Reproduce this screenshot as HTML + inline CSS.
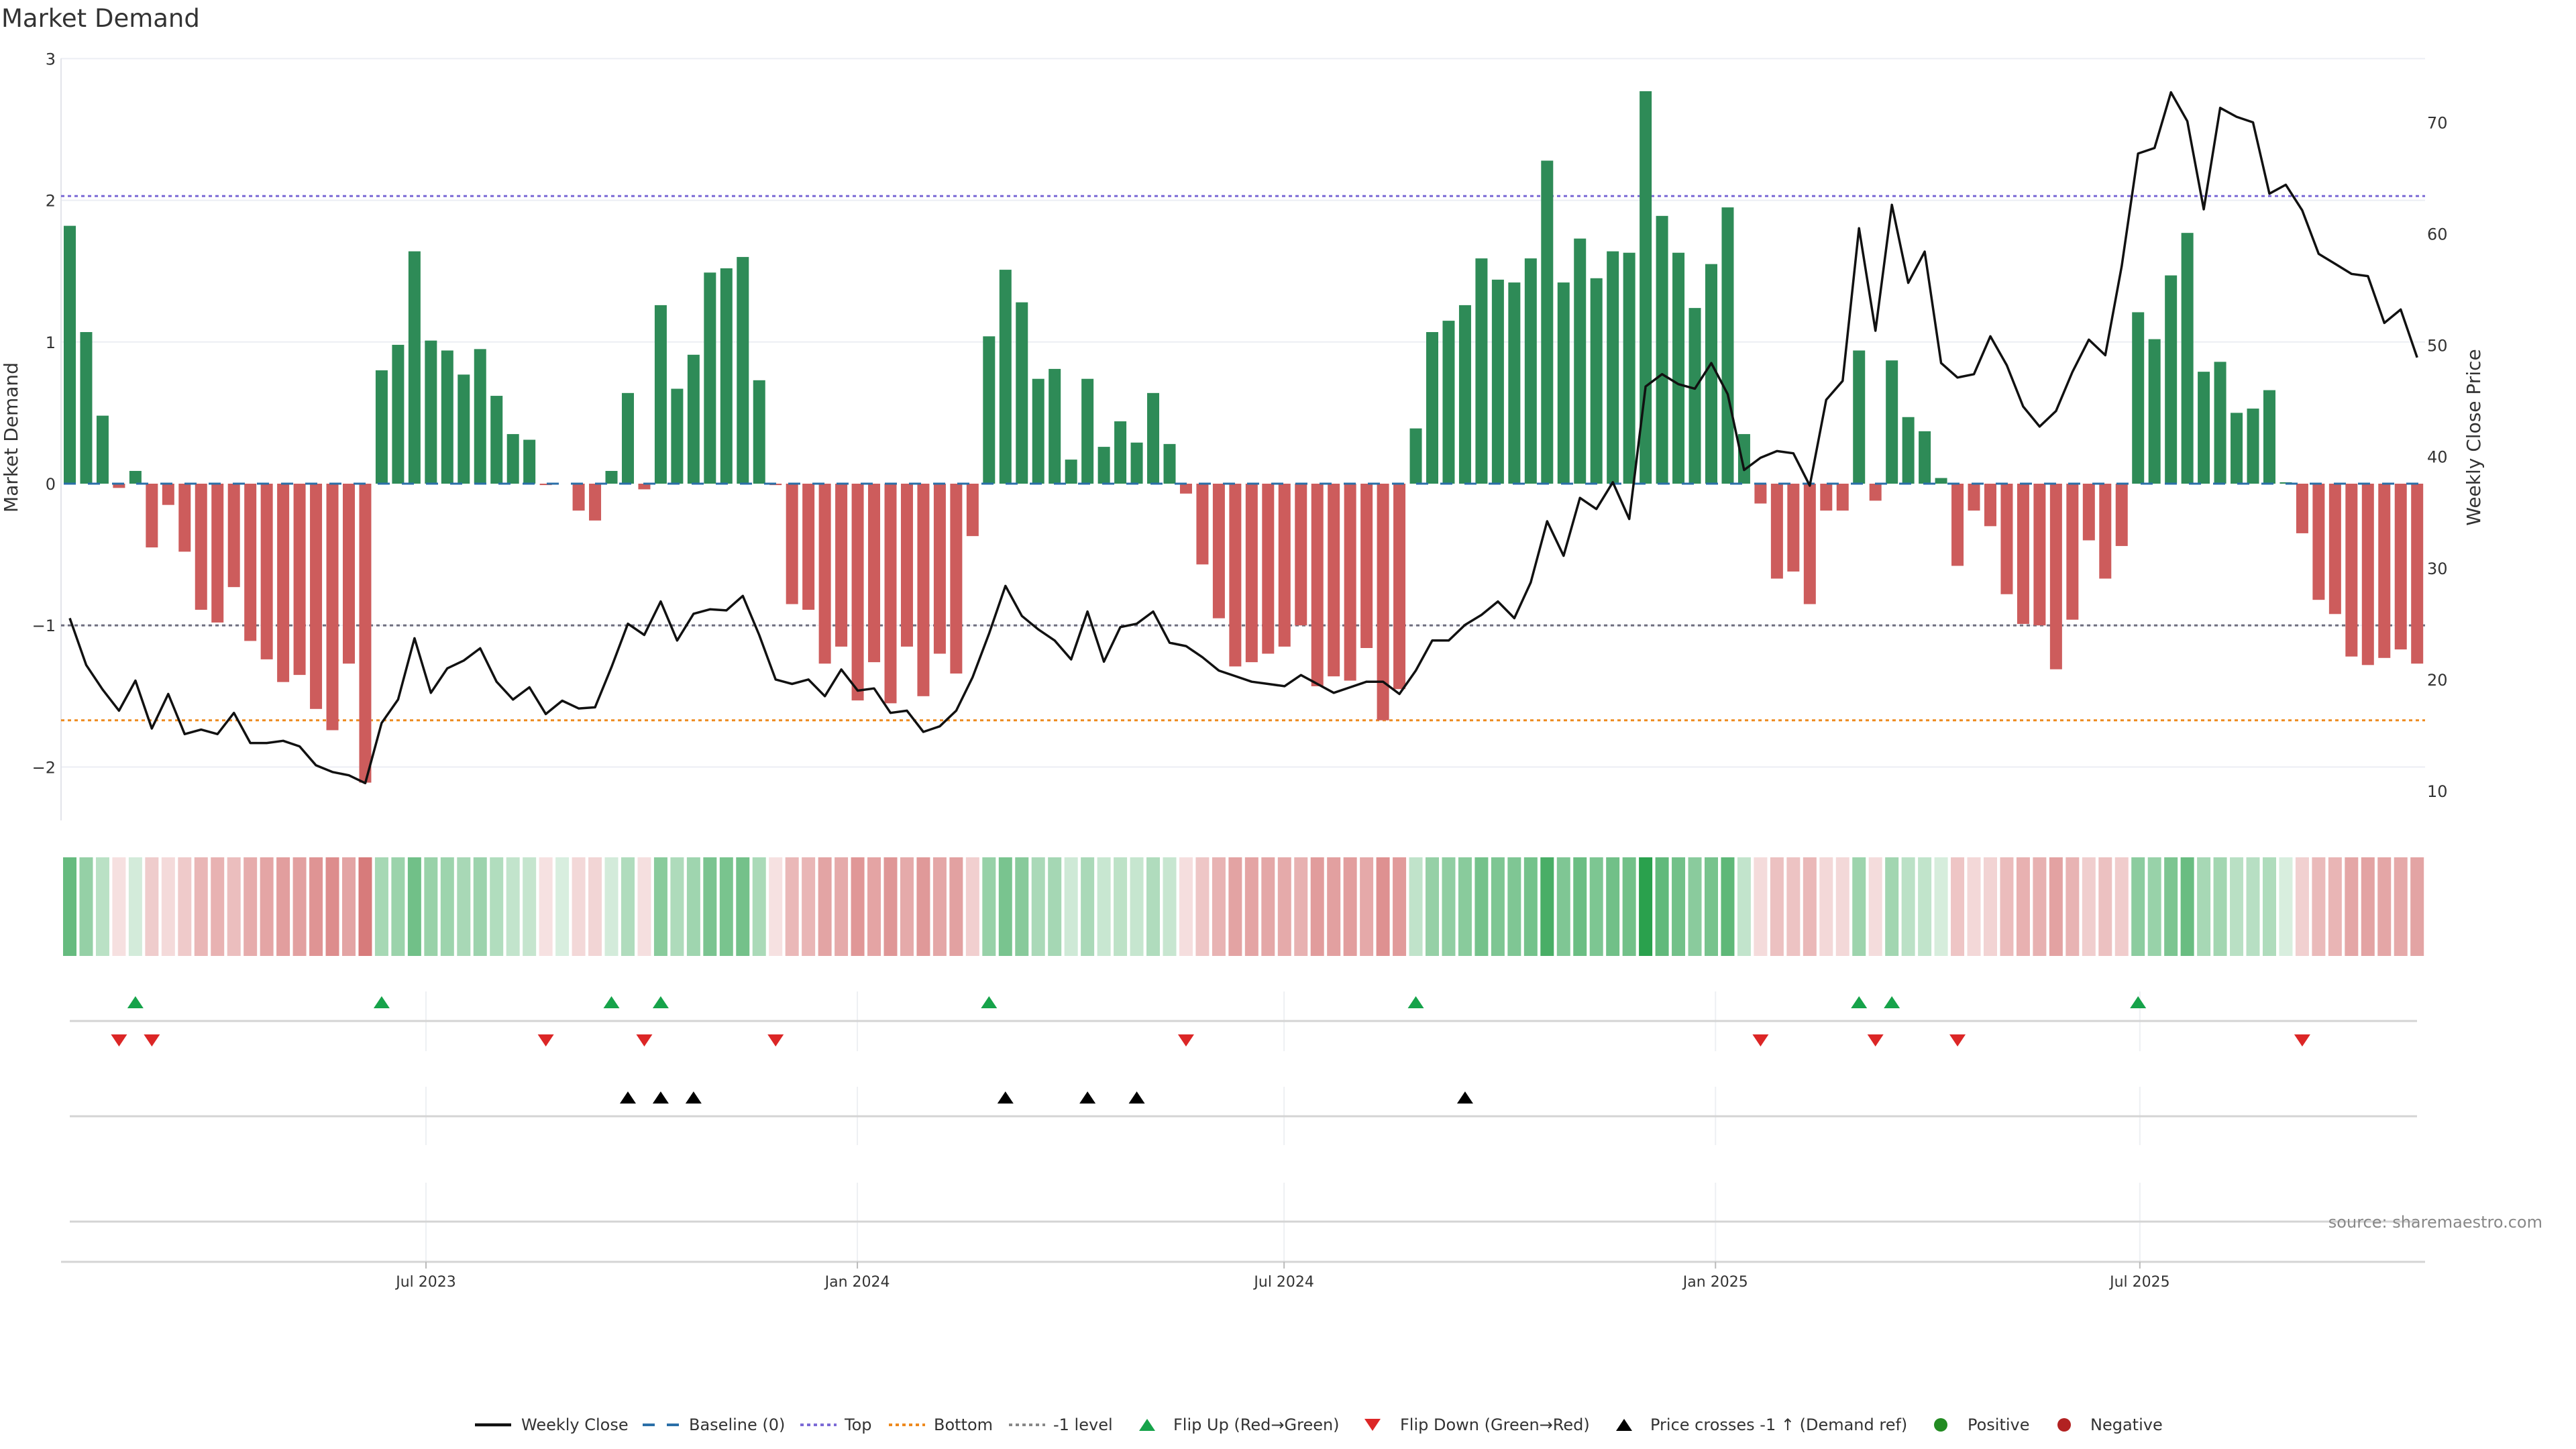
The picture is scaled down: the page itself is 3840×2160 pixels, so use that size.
<!DOCTYPE html>
<html><head><meta charset="utf-8"><style>
html,body{margin:0;padding:0;background:#fff;}
svg{display:block;font-family:"DejaVu Sans","Liberation Sans",sans-serif;}
</style></head><body>
<svg id="chart" width="3840" height="2160" viewBox="0 0 3840 2160" xmlns="http://www.w3.org/2000/svg">
<rect width="3840" height="2160" fill="#fff"/>
<text x="2" y="40" font-size="37" fill="#333">Market Demand</text>
<g id="grid"></g><g id="refs"></g><g id="bars"></g><g id="line"></g><g id="heat"></g><g id="lower"></g><g id="axes"></g>
<g id="legend"></g>
<text x="3790" y="1830" font-size="24" fill="#888" text-anchor="end">source: sharemaestro.com</text>
</svg>
<script>
const demand=[1.82,1.07,0.48,-0.03,0.09,-0.45,-0.15,-0.48,-0.89,-0.98,-0.73,-1.11,-1.24,-1.40,-1.35,-1.59,-1.74,-1.27,-2.11,0.80,0.98,1.64,1.01,0.94,0.77,0.95,0.62,0.35,0.31,-0.01,0.0,-0.19,-0.26,0.09,0.64,-0.04,1.26,0.67,0.91,1.49,1.52,1.60,0.73,-0.01,-0.85,-0.89,-1.27,-1.15,-1.53,-1.26,-1.55,-1.15,-1.50,-1.20,-1.34,-0.37,1.04,1.51,1.28,0.74,0.81,0.17,0.74,0.26,0.44,0.29,0.64,0.28,-0.07,-0.57,-0.95,-1.29,-1.26,-1.20,-1.15,-1.00,-1.43,-1.36,-1.39,-1.16,-1.67,-1.45,0.39,1.07,1.15,1.26,1.59,1.44,1.42,1.59,2.28,1.42,1.73,1.45,1.64,1.63,2.77,1.89,1.63,1.24,1.55,1.95,0.35,-0.14,-0.67,-0.62,-0.85,-0.19,-0.19,0.94,-0.12,0.87,0.47,0.37,0.04,-0.58,-0.19,-0.30,-0.78,-0.99,-1.00,-1.31,-0.96,-0.40,-0.67,-0.44,1.21,1.02,1.47,1.77,0.79,0.86,0.50,0.53,0.66,0.01,-0.35,-0.82,-0.92,-1.22,-1.28,-1.23,-1.17,-1.27];
const price=[25.5,21.3,19.1,17.2,19.9,15.6,18.7,15.1,15.5,15.1,17.0,14.3,14.3,14.5,14.0,12.3,11.7,11.4,10.7,16.1,18.2,23.7,18.8,21.0,21.7,22.8,19.8,18.2,19.3,16.9,18.1,17.4,17.5,21.1,25.0,24.0,27.0,23.5,25.9,26.3,26.2,27.5,24.0,20.0,19.6,20.0,18.5,20.9,19.0,19.2,17.0,17.2,15.3,15.8,17.2,20.2,24.1,28.4,25.7,24.5,23.5,21.8,26.1,21.6,24.7,25.0,26.1,23.3,23.0,22.0,20.8,20.3,19.8,19.6,19.4,20.4,19.6,18.8,19.3,19.8,19.8,18.7,20.8,23.5,23.5,24.9,25.8,27.0,25.5,28.7,34.2,31.1,36.3,35.3,37.7,34.4,46.3,47.4,46.5,46.1,48.4,45.6,38.8,39.9,40.5,40.3,37.4,45.1,46.8,60.5,51.3,62.6,55.6,58.4,48.4,47.1,47.4,50.8,48.2,44.5,42.7,44.1,47.6,50.5,49.1,57.1,67.2,67.7,72.7,70.1,62.2,71.3,70.5,70.0,63.6,64.4,62.1,58.2,57.3,56.4,56.2,52.0,53.2,48.9];
const flipUp=[4,19,33,36,56,82,109,111,126];
const flipDown=[3,5,29,35,43,68,103,110,115,136];
const priceCross=[34,36,38,57,62,65,85];
const leftTicks=[3,2,1,0,-1,-2];
const leftTickLabels=["3","2","1","0","\u22121","\u22122"];
const rightTicks=[10,20,30,40,50,60,70];
const dateTicks=["2023-07-01","2024-01-01","2024-07-01","2025-01-01","2025-07-01"];
const dateTickLabels=["Jul 2023","Jan 2024","Jul 2024","Jan 2025","Jul 2025"];
const topLevel=2.03, bottomLevel=-1.67, minusLevel=-1;

const NS="http://www.w3.org/2000/svg";
function mk(tag,attrs,parent,txt){const e=document.createElementNS(NS,tag);for(const k in attrs)e.setAttribute(k,attrs[k]);if(txt!==undefined)e.textContent=txt;parent.appendChild(e);return e;}
const X0=104,DX=24.47;
function xOf(i){return X0+DX*i;}
function yL(v){return 721-211.2*v;}
function yR(p){return 182.4+(70-p)*16.61;}
const jul23=Date.UTC(2023,6,1);
function xDate(s){const d=(Date.parse(s)-jul23)/86400000;return 635+d*3.495;}
const PL=91,PR=3615;
const G=id=>document.getElementById(id);

const grid=G('grid');
leftTicks.forEach((v,k)=>{
  if(v!==0){const l=mk('line',{x1:PL,x2:PR,y1:yL(v),y2:yL(v),stroke:'#eceef4','stroke-width':2},grid);
  
  }
  const t=mk('text',{x:83,y:yL(v)+9,'font-size':24,'text-anchor':'end',fill:'#333'},grid,leftTickLabels[k]);
  
  
});
rightTicks.forEach(p=>{
  const t=mk('text',{x:3618,y:yR(p)+9,'font-size':24,fill:'#333'},grid,String(p));
  
  
});
const ax=mk('line',{x1:PL,x2:PL,y1:87,y2:1223,stroke:'#e2e4ea','stroke-width':2},grid);


let t1=mk('text',{x:0,y:0,'font-size':28,fill:'#333','text-anchor':'middle',transform:'translate(26,652) rotate(-90)'},grid,'Market Demand');


let t2=mk('text',{x:0,y:0,'font-size':28,fill:'#333','text-anchor':'middle',transform:'translate(3697,652) rotate(-90)'},grid,'Weekly Close Price');



const bars=G('bars');
demand.forEach((v,i)=>{
  const y0=yL(0),y1=yL(v);
  const r=mk('rect',{x:xOf(i)-9,y:Math.min(y0,y1),width:18,height:Math.max(Math.abs(y1-y0),0.01),fill:v>=0?'#2e8b57':'#cd5c5c'},bars);
  
  
});

const refs=G('refs');
function ref(v,color,dash,name){const l=mk('line',{x1:PL,x2:PR,y1:yL(v),y2:yL(v),stroke:color,'stroke-width':3,'stroke-dasharray':dash},refs);
  
  }
ref(topLevel,'#7b6ad6','5 5','top-line');
ref(minusLevel,'#6e6e7e','5 5','minus1-line');
ref(bottomLevel,'#ee8a1e','5 5','bottom-line');
const bl=mk('line',{x1:xOf(0)-9,x2:xOf(demand.length-1)+9,y1:yL(0),y2:yL(0),stroke:'#2a6fa8','stroke-width':3,'stroke-dasharray':'18 18'},G('line'));



const pts=price.map((p,i)=>xOf(i).toFixed(1)+','+yR(p).toFixed(1)).join(' ');
const pl=mk('polyline',{points:pts,fill:'none',stroke:'#111','stroke-width':3.5,'stroke-linejoin':'round'},G('line'));



const heat=G('heat');
demand.forEach((v,i)=>{
  const a=Math.min(0.18+0.82*Math.abs(v)/2.8,1);
  const base=v>=0?[40,160,75]:[205,90,90];
  const c=base.map(b=>Math.round(b*a+255*(1-a)));
  const r=mk('rect',{x:xOf(i)-10,y:1278,width:20,height:147,fill:'rgb('+c.join(',')+')'},heat);
  
  
});

const low=G('lower');
dateTicks.forEach(d=>{
  const x=xDate(d);
  [[1478,1567],[1620,1707],[1763,1881]].forEach(s=>{
    const l=mk('line',{x1:x,x2:x,y1:s[0],y2:s[1],stroke:'#eef0f3','stroke-width':2},low);
    
    
  });
});
[1522,1664,1821].forEach(y=>{
  const l=mk('line',{x1:104,x2:3603,y1:y,y2:y,stroke:'#d4d4d4','stroke-width':3},low);
  
  
});
const xa=mk('line',{x1:PL,x2:PR,y1:1881,y2:1881,stroke:'#d4d4d4','stroke-width':3},low);


dateTicks.forEach((d,k)=>{
  const x=xDate(d);
  const tk=mk('line',{x1:x,x2:x,y1:1881,y2:1891,stroke:'#bbb','stroke-width':2},low);
  
  
  const t=mk('text',{x:x,y:1918,'font-size':22,'text-anchor':'middle',fill:'#333'},low,dateTickLabels[k]);
  
  
});
function tri(x,y,up,color,parent){const h=9,w=12;
  const p=up?`${x-w},${y+h} ${x+w},${y+h} ${x},${y-h}`:`${x-w},${y-h} ${x+w},${y-h} ${x},${y+h}`;
  return mk('polygon',{points:p,fill:color},parent);}
flipUp.forEach(i=>{const m=tri(xOf(i),1494,true,'#16a34a',low);
  
  });
flipDown.forEach(i=>{const m=tri(xOf(i),1551,false,'#dc2626',low);
  
  });
priceCross.forEach(i=>{const m=tri(xOf(i),1636,true,'#000',low);
  
  });

const lg=G('legend');const LY=2124;
function ltext(x,s,name){const t=mk('text',{x:x,y:LY+8,'font-size':24,fill:'#333'},lg,s);
  
  }
function lline(x,color,dash,name){const l=mk('line',{x1:x,x2:x+54,y1:LY,y2:LY,stroke:color,'stroke-width':dash?4:4.5,'stroke-dasharray':dash||'none'},lg);
  
  }
lline(708,'#111',null,'legend-weekly-close-swatch');ltext(777,'Weekly Close','legend-weekly-close');
lline(958,'#2a6fa8','18 18','legend-baseline-swatch');ltext(1027,'Baseline (0)','legend-baseline');
lline(1193,'#7b6ad6','5 5','legend-top-swatch');ltext(1259,'Top','legend-top');
lline(1325,'#ee8a1e','5 5','legend-bottom-swatch');ltext(1392,'Bottom','legend-bottom');
lline(1504,'#888','5 5','legend-minus1-swatch');ltext(1570,'-1 level','legend-minus1');
let m1=tri(1710,LY,true,'#16a34a',lg);


ltext(1749,'Flip Up (Red\u2192Green)','legend-flip-up');
let m2=tri(2046,LY,false,'#dc2626',lg);


ltext(2087,'Flip Down (Green\u2192Red)','legend-flip-down');
let m3=tri(2421,LY,true,'#000',lg);


ltext(2460,'Price crosses -1 \u2191 (Demand ref)','legend-price-cross');
let c1=mk('circle',{cx:2893,cy:LY,r:10,fill:'#228b22'},lg);


ltext(2933,'Positive','legend-positive');
let c2=mk('circle',{cx:3077,cy:LY,r:10,fill:'#b22222'},lg);


ltext(3116,'Negative','legend-negative');
</script>
</body></html>
